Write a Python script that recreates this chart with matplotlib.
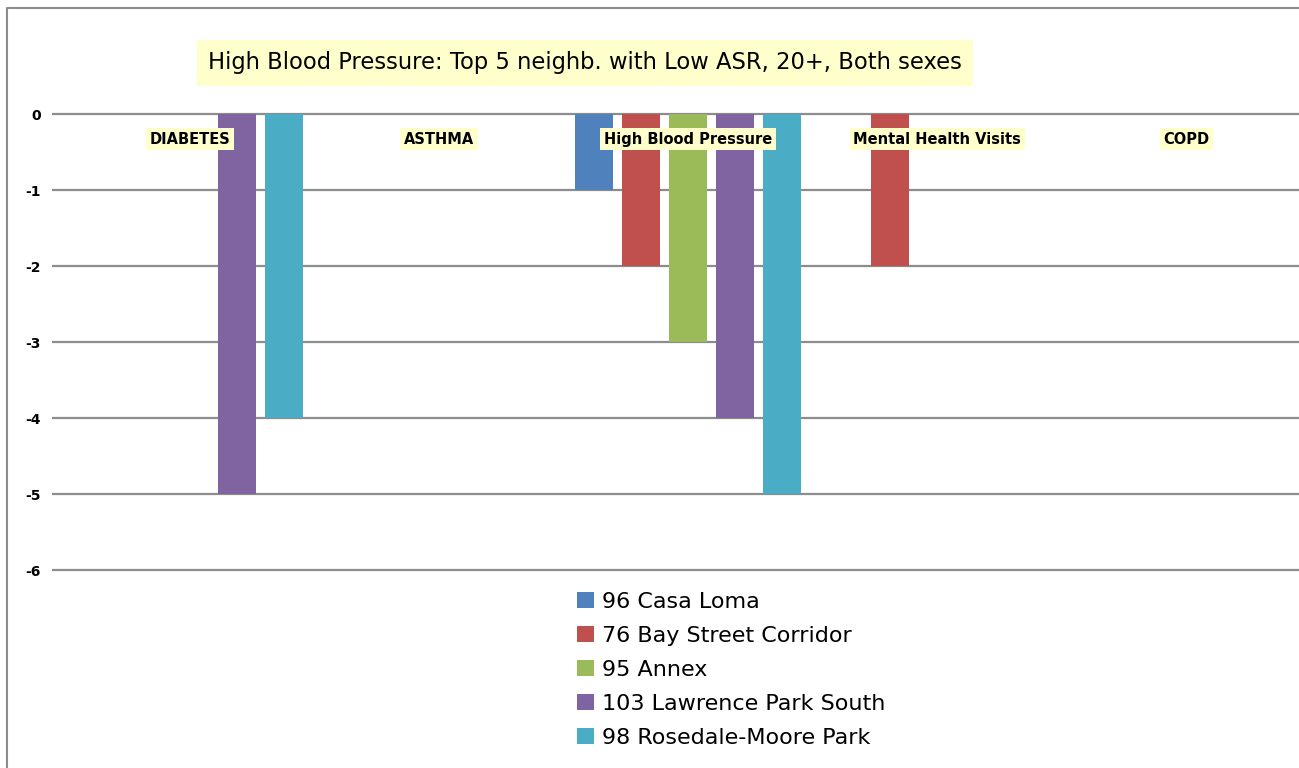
import numpy as np
import matplotlib
matplotlib.use('agg')
import matplotlib.pyplot as plt
from matplotlib.lines import Line2D
from matplotlib.patches import Patch

## data
categories = ["DIABETES", "ASTHMA", "High Blood Pressure", "Mental Health Visits", "COPD"]
series = ["96 Casa Loma", "76 Bay Street Corridor", "95 Annex",
          "103 Lawrence Park South", "98 Rosedale-Moore Park"]
casa_loma = [0, 0, -1, 0, 0]
bay_street = [0, 0, -2, -2, 0]
annex = [0, 0, -3, 0, 0]
lawrence_park = [-5, 0, -4, 0, 0]
rosedale = [-4, 0, -5, 0, 0]
yticks = [0, -1, -2, -3, -4, -5, -6]

values = [casa_loma, bay_street, annex, lawrence_park, rosedale]
colors = ['#4F81BD', '#C0504D', '#9BBB59', '#8064A2', '#4BACC6']

W, H = 1299, 768
fig = plt.figure(figsize=(W/100, H/100), dpi=100)
ax = fig.add_axes([53/W, 1-570/H, 1-53/W, (570-114)/H])

x = np.arange(len(categories))
step = 0.189
bw = 0.153
for k, (vals, col) in enumerate(zip(values, colors)):
    ax.bar(x + (k-2)*step, vals, width=bw, color=col, zorder=2, label=series[k])

for t in yticks:
    ax.axhline(t, color='#8c8c8c', lw=1.6, zorder=1, clip_on=False)

ax.set_xlim(-0.5 - 12/249, 4.5 - 12/249)
ax.set_ylim(-6, 0)
ax.set_yticks(yticks)
ax.set_yticklabels([str(t) for t in yticks], fontsize=10, fontweight='bold')
ax.tick_params(axis='y', length=0, pad=9)
ax.set_xticks([])
for s in ax.spines.values():
    s.set_visible(False)

for i, c in enumerate(categories):
    ax.text(i, -0.33, c, ha='center', va='center', fontsize=10.5, fontweight='bold',
            zorder=5, bbox=dict(boxstyle='square,pad=0.25', fc='#FFFFCC', ec='none'))

fig.text(585/W, 1-63/H, "High Blood Pressure: Top 5 neighb. with Low ASR, 20+, Both sexes",
         ha='center', va='center', fontsize=16.3,
         bbox=dict(boxstyle='square,pad=0.5', fc='#FFFFCC', ec='none'))

handles = [Patch(facecolor=c, edgecolor='none') for c in colors]
fig.legend(handles, series, loc='upper left', bbox_to_anchor=(568/W, 1-583/H),
           frameon=False, fontsize=16, handlelength=0.75, handleheight=0.75,
           handletextpad=0.4, labelspacing=0.63, borderaxespad=0)

# outer frame
fig.add_artist(Line2D([7/W, 7/W, 1.0], [0.0, 1-8/H, 1-8/H], color='#8c8c8c', lw=1.5,
                      transform=fig.transFigure))

fig.savefig('out.png', dpi=100)
